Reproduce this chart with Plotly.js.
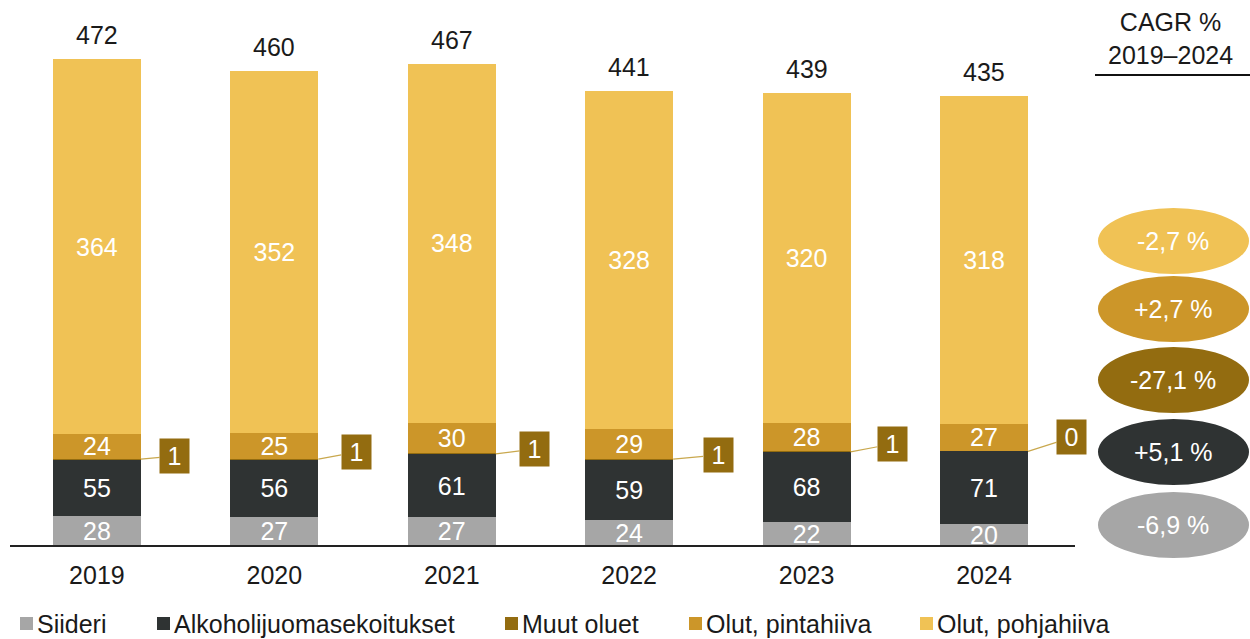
<!DOCTYPE html>
<html>
<head>
<meta charset="utf-8">
<script src="https://cdn.plot.ly/plotly-3.0.1.min.js"></script>
<style>html,body{margin:0;padding:0;background:#fff;}#chart{width:1250px;height:639px;}</style>
</head>
<body>
<div id="chart"></div>
<script>
// ---- data ----
const years = ['2019', '2020', '2021', '2022', '2023', '2024'];
const siideri = [28, 27, 27, 24, 22, 20];
const alkoholijuomasekoitukset = [55, 56, 61, 59, 68, 71];
const muutOluet = [1, 1, 1, 1, 1, 0];
const olutPintahiiva = [24, 25, 30, 29, 28, 27];
const olutPohjahiiva = [364, 352, 348, 328, 320, 318];
const totals = [472, 460, 467, 441, 439, 435];
const seriesNames = ['Siideri', 'Alkoholijuomasekoitukset', 'Muut oluet', 'Olut, pintahiiva', 'Olut, pohjahiiva'];
const cagrTitle = ['CAGR %', '2019–2024'];
// CAGR labels, same order as seriesNames
const cagrLabels = ['-6,9 %', '+5,1 %', '-27,1 %', '+2,7 %', '-2,7 %'];

// ---- styles / layout constants ----
const colors = ['#a6a6a6', '#2f3333', '#936c10', '#cc9629', '#f0c255'];
const FONT = '"Liberation Sans", Arial, sans-serif';
const TXT = '#1a1a1a';
const W = 1250, H = 639, ML = 10, MR = 0, MT = 0, MB = 94;
const PW = W - ML - MR, PH = H - MT - MB;
const px2x = px => (px - ML) / PW;
const py2y = py => (H - MB - py) / PH;
const plotRight = 1075;
const barGap = 0.504;
const halfBar = (1 - barGap) / 2;
// callout box centre offsets (pixels) from bar edge
const calloutDx = [34, 38, 39, 45, 42, 44];
const calloutDy = [-3, -7, -5, -4, -8, -14];
// ellipse centres (pixel y), same order as seriesNames
const ellipseY = [525, 452, 380, 309, 241];
const legendSquareX = [20, 157, 505, 689, 920];

const seriesValues = [siideri, alkoholijuomasekoitukset, muutOluet, olutPintahiiva, olutPohjahiiva];

const traces = seriesValues.map((vals, i) => ({
  type: 'bar',
  name: seriesNames[i],
  x: years,
  y: vals,
  marker: {color: colors[i], line: {width: 0}},
  text: i === 2 ? vals.map(() => '') : vals.map(String),
  textposition: i === 2 ? 'none' : 'inside',
  insidetextanchor: 'middle',
  textangle: 0,
  constraintext: 'none',
  textfont: {family: FONT, size: 25, color: '#ffffff'},
  hoverinfo: 'name+y',
  showlegend: false
}));

const annotations = [];
const shapes = [];

years.forEach((yr, i) => {
  const stackTop = seriesValues.reduce((s, arr) => s + arr[i], 0);
  // totals above bars
  annotations.push({
    x: i, y: stackTop, xref: 'x', yref: 'y',
    text: String(totals[i]), showarrow: false,
    xanchor: 'center', yanchor: 'bottom', yshift: 8,
    font: {family: FONT, size: 25, color: TXT}
  });
  // Muut oluet callout
  const base = siideri[i] + alkoholijuomasekoitukset[i];
  annotations.push({
    x: i + halfBar, y: base + muutOluet[i] / 2, xref: 'x', yref: 'y',
    text: String(muutOluet[i]), showarrow: true,
    arrowhead: 0, arrowwidth: 1.2, arrowcolor: '#c9a84e', standoff: 0,
    ax: calloutDx[i], ay: calloutDy[i],
    width: 29, height: 34, bgcolor: colors[2], borderpad: 0,
    font: {family: FONT, size: 25, color: '#ffffff'}
  });
});

// CAGR header
annotations.push({
  xref: 'paper', yref: 'paper', x: px2x(1170), y: py2y(38),
  xanchor: 'center', yanchor: 'middle',
  text: cagrTitle.join('<br>'), showarrow: false,
  font: {family: FONT, size: 25, color: TXT}, align: 'center'
});
shapes.push({
  type: 'line', xref: 'paper', yref: 'paper',
  x0: px2x(1095), x1: px2x(1250), y0: py2y(75), y1: py2y(75),
  line: {color: '#111', width: 2}
});

// CAGR ellipses
cagrLabels.forEach((lab, i) => {
  const cy = ellipseY[i];
  shapes.push({
    type: 'circle', xref: 'paper', yref: 'paper',
    x0: px2x(1098), x1: px2x(1249), y0: py2y(cy + 33), y1: py2y(cy - 33),
    fillcolor: colors[i], line: {width: 0}
  });
  annotations.push({
    xref: 'paper', yref: 'paper', x: px2x(1173), y: py2y(cy),
    xanchor: 'center', yanchor: 'middle',
    text: lab, showarrow: false,
    font: {family: FONT, size: 25, color: '#ffffff'}
  });
});

// legend (manual, to match spacing)
seriesNames.forEach((nm, i) => {
  const sx = legendSquareX[i];
  shapes.push({
    type: 'rect', xref: 'paper', yref: 'paper',
    x0: px2x(sx), x1: px2x(sx + 13), y0: py2y(630), y1: py2y(617),
    fillcolor: colors[i], line: {width: 0}
  });
  annotations.push({
    xref: 'paper', yref: 'paper', x: px2x(sx + 15), y: py2y(624),
    xanchor: 'left', yanchor: 'middle',
    text: nm, showarrow: false,
    font: {family: FONT, size: 25, color: TXT}
  });
});

const layout = {
  width: W, height: H,
  margin: {l: ML, r: MR, t: MT, b: MB, pad: 0},
  paper_bgcolor: '#ffffff', plot_bgcolor: '#ffffff',
  barmode: 'stack', bargap: barGap,
  showlegend: false,
  font: {family: FONT, color: TXT},
  xaxis: {
    type: 'category',
    domain: [0, px2x(plotRight)],
    range: [-0.49, 5.513],
    showline: true, linecolor: '#222', linewidth: 1.5,
    ticks: '', showgrid: false, zeroline: false,
    tickfont: {family: FONT, size: 25, color: TXT},
    ticklabelstandoff: 7
  },
  yaxis: {
    range: [0, 529.6], visible: false, showgrid: false, zeroline: false
  },
  annotations: annotations,
  shapes: shapes
};

Plotly.newPlot('chart', traces, layout, {displayModeBar: false, staticPlot: true});
</script>
</body>
</html>
